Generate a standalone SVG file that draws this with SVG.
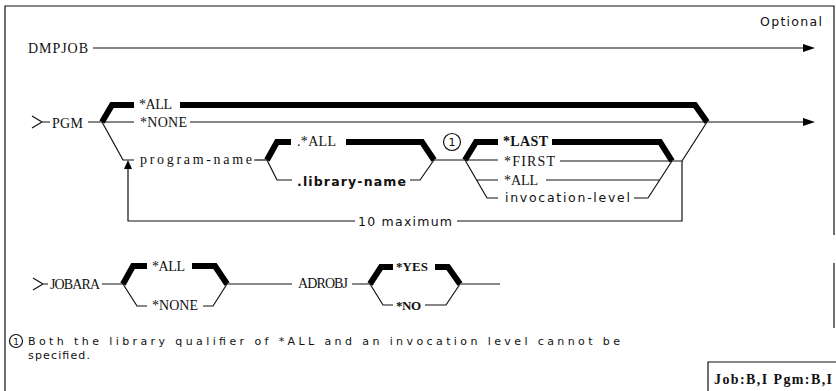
<svg xmlns="http://www.w3.org/2000/svg" width="836" height="391" viewBox="0 0 836 391">
<style>
.s{font-family:"Liberation Serif","Times New Roman",serif;font-size:14px;fill:#111}
.sb{font-family:"Liberation Serif","Times New Roman",serif;font-size:14px;font-weight:bold;fill:#111}
.g{font-family:"DejaVu Sans","Liberation Sans",sans-serif;font-size:12.5px;fill:#111}
.gb{font-family:"DejaVu Sans","Liberation Sans",sans-serif;font-size:12.5px;font-weight:bold;fill:#111}
.fn{font-family:"DejaVu Sans","Liberation Sans",sans-serif;font-size:11px;fill:#111}
.t{fill:none;stroke:#111;stroke-width:1.2}
.k{fill:none;stroke:#000;stroke-width:6;stroke-linejoin:miter;stroke-miterlimit:10}
.ah{fill:#000}
.c{fill:none;stroke:#111;stroke-width:1.2}
.cn{font-family:"DejaVu Sans","Liberation Sans",sans-serif;font-size:11px;fill:#111;text-anchor:middle}
</style>
<rect width="836" height="391" fill="#fff"/>
<g id="frame">
<path class="t" d="M5,391 V6 H834 V235 M834,263 V328"/>
<path class="t" d="M708,391 V362 H836"/>
</g>
<g id="labels">
<text id="optional" class="g" x="760" y="26" textLength="62" lengthAdjust="spacing">Optional</text>
<text id="usage" class="sb" x="714" y="384" textLength="118" lengthAdjust="spacing">Job:B,I Pgm:B,I</text>
</g>
<g id="n-dmpjob"><text class="s" x="28" y="53" textLength="60" lengthAdjust="spacing">DMPJOB</text></g>
<g id="n-pgm"><text class="s" x="52" y="128" textLength="31" lengthAdjust="spacing">PGM</text></g>
<g id="n-pgm-all"><text class="s" x="139" y="109" textLength="33" lengthAdjust="spacing">*ALL</text></g>
<g id="n-pgm-none"><text class="s" x="140" y="127" textLength="47" lengthAdjust="spacing">*NONE</text></g>
<g id="n-program-name"><text class="s" x="140" y="164" textLength="112" lengthAdjust="spacing">program-name</text></g>
<g id="n-lib-all"><text class="s" x="297" y="146" textLength="39" lengthAdjust="spacing">.*ALL</text></g>
<g id="n-library-name"><text class="gb" x="297" y="186" textLength="109" lengthAdjust="spacing">.library-name</text></g>
<g id="n-note1"><circle class="c" cx="452" cy="142" r="8.5"/><text class="cn" x="452" y="146">1</text></g>
<g id="n-last"><text class="sb" x="503" y="146" textLength="45" lengthAdjust="spacing">*LAST</text></g>
<g id="n-first"><text class="s" x="504" y="166" textLength="51" lengthAdjust="spacing">*FIRST</text></g>
<g id="n-inv-all"><text class="s" x="504" y="185" textLength="34" lengthAdjust="spacing">*ALL</text></g>
<g id="n-invocation-level"><text class="g" x="505" y="202" textLength="125" lengthAdjust="spacing">invocation-level</text></g>
<g id="n-max"><text class="g" x="358" y="226" textLength="94" lengthAdjust="spacing">10 maximum</text></g>
<g id="n-jobara"><text class="s" x="50" y="289" textLength="50" lengthAdjust="spacing">JOBARA</text></g>
<g id="n-job-all"><text class="s" x="152" y="271" textLength="33" lengthAdjust="spacing">*ALL</text></g>
<g id="n-job-none"><text class="s" x="152" y="310" textLength="46" lengthAdjust="spacing">*NONE</text></g>
<g id="n-adrobj"><text class="s" x="298" y="288" textLength="50" lengthAdjust="spacing">ADROBJ</text></g>
<g id="n-yes"><text class="sb" x="396" y="271" textLength="32" lengthAdjust="spacing" style="font-size:13px">*YES</text></g>
<g id="n-no"><text class="sb" x="396" y="310" textLength="25" lengthAdjust="spacing" style="font-size:13px">*NO</text></g>
<g id="n-footnote">
<circle class="c" cx="16" cy="341" r="6.5"/><text class="cn" x="16" y="344.5" style="font-size:9px">1</text>
<text class="fn" x="28" y="345" textLength="592" lengthAdjust="spacing">Both the library qualifier of *ALL and an invocation level cannot be</text>
<text class="fn" x="28" y="359" textLength="62" lengthAdjust="spacing">specified.</text>
</g>
<g id="connectors">
<path class="t" d="M93,48 H806"/>
<path class="ah" d="M803,44 L815,48 L803,52 Z"/>
<path class="t" d="M32,116 L42,122 L32,128 M42,122 H50 M88,122 H102"/>
<path class="k" d="M102,122 L112,105 H134"/>
<path class="k" d="M180,105 H695 L707,122"/>
<path class="t" d="M102,122 H134 M190,122 H806"/>
<path class="ah" d="M803,118 L815,122 L803,126 Z"/>
<path class="t" d="M102,122 L123,160 H134"/>
<path class="t" d="M254,160 H267"/>
<path class="k" d="M267,160 L277,142 H291"/>
<path class="k" d="M346,142 H422 L434,160"/>
<path class="t" d="M267,160 L277,180 H292 M410,180 H420 L434,160 H465"/>
<path class="k" d="M465,160 L476,142 H498"/>
<path class="k" d="M552,142 H660 L672,161"/>
<path class="t" d="M465,160 H498 M560,161 H682 L707,122"/>
<path class="t" d="M465,160 L487,198 H498 M477,180 H498 M546,180 H660 M634,198 H648 L672,161"/>
<path class="t" d="M682,161 V221 H457 M355,221 H128 V168"/>
<path class="ah" d="M124,169 L128,160 L132,169 Z"/>
<path class="t" d="M33,278 L43,284 L33,290 M43,284 H48 M102,284 H123"/>
<path class="k" d="M123,284 L133,266 H147"/>
<path class="k" d="M192,266 H215 L227,284"/>
<path class="t" d="M123,284 L137,306 H147 M203,306 H213 L227,284 H292 M352,284 H370"/>
<path class="k" d="M370,284 L381,267 H393"/>
<path class="k" d="M435,267 H448 L460,284"/>
<path class="t" d="M370,284 L383,305 H393 M425,305 H446 L460,284 H500"/>
</g>
</svg>
